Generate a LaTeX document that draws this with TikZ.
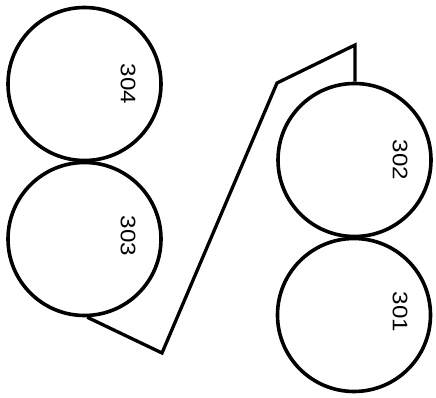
\documentclass[tikz,border=0pt]{standalone}
\usepackage{fontspec}
\setmainfont{Liberation Sans}
\usepackage{tikz}
\usetikzlibrary{positioning}

\begin{document}
\begin{tikzpicture}[x=1pt,y=-1pt,
  roll/.style={circle,draw,line width=3.6pt,minimum size=153pt,inner sep=0pt},
  num/.style={rotate=-90,font=\fontsize{21}{21}\selectfont,inner sep=0pt}]
  \useasboundingbox (0,0) rectangle (436,398);
  \node[roll] (c304) at (84.5,84) {};
  \node[roll] (c303) at (84.5,239) {};
  \node[roll] (c302) at (354.5,160) {};
  \node[roll] (c301) at (354,315) {};
  \node[num] (l304) at (128,84) {\scalebox{1.15}[1]{304}};
  \node[num] (l303) at (128,236) {\scalebox{1.15}[1]{303}};
  \node[num] (l302) at (400,160) {\scalebox{1.15}[1]{302}};
  \node[num] (l301) at (400,312) {\scalebox{1.15}[1]{301}};
  % strap from 303 over to 302
  \coordinate (k1) at (162,353);
  \coordinate (k2) at (277,83);
  \coordinate (k3) at (355,45);
  \draw[line width=3.3pt] (c303.-88) -- (k1) -- (k2) -- (k3) -- (k3 |- c302.north);
\end{tikzpicture}
\end{document}
